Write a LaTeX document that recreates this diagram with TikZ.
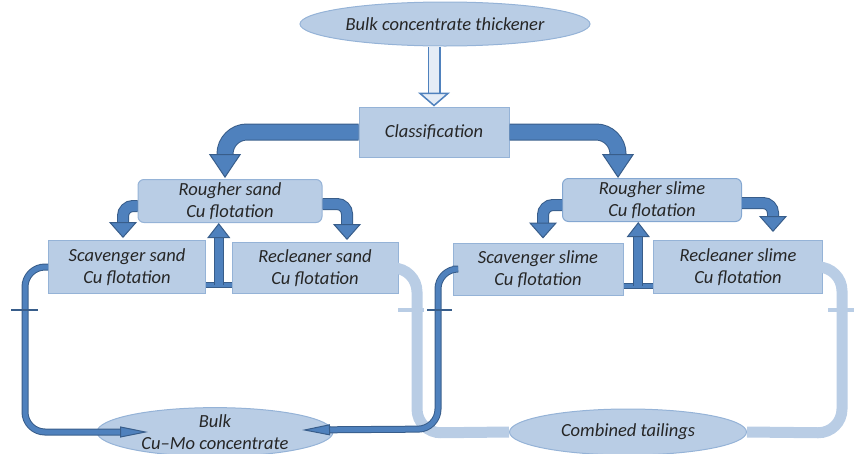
\documentclass[tikz,border=0pt]{standalone}
\usepackage{fontspec}
\setmainfont{Carlito}
\usepackage{tikz}
\usetikzlibrary{
	arrows.meta,
	calc,
	shapes.geometric,
	positioning
}
\definecolor{boxfill}{HTML}{B9CDE5}
\definecolor{boxline}{HTML}{95B3D7}
\definecolor{midblue}{HTML}{4F81BD}
\definecolor{dkblue}{HTML}{385D8A}
\definecolor{ltblue}{HTML}{B9CDE5}
\definecolor{paleblue}{HTML}{E4ECF6}
\definecolor{txt}{HTML}{262626}

\begin{document}
\begin{tikzpicture}[x=1pt, y=-1pt,
	font=\fontsize{18.5}{21.5}\selectfont\itshape, text=txt,
	unit/.style={draw=boxline, fill=boxfill, line width=1, inner sep=0, align=center},
	tank/.style={unit, ellipse},
	bigarr/.style={draw=midblue, line width=15, rounded corners=22,
		-{Triangle[width=32, length=24, line width=1, color=dkblue, fill=midblue]},
		preaction={draw=dkblue, line width=17, arrows=-, shorten >=20}},
	smallarr/.style={draw=midblue, line width=10, rounded corners=10,
		-{Triangle[width=28, length=16, line width=1, color=dkblue, fill=midblue]},
		preaction={draw=dkblue, line width=12, arrows=-, shorten >=13}},
	uparr/.style={draw=midblue, line width=8,
		-{Triangle[width=23, length=15, line width=1, color=dkblue, fill=midblue]},
		preaction={draw=dkblue, line width=10, arrows=-, shorten >=12}},
	bar/.style={draw=midblue, line width=4, preaction={draw=dkblue, line width=6}},
	hollowarr/.style={draw=paleblue, line width=10, shorten >=12,
		preaction={draw=midblue, line width=13, shorten >=12},
		postaction={draw=paleblue, line width=0.1, shorten >=0,
			-{Triangle[width=32, length=14, line width=1.5, color=midblue, fill=paleblue]}}},
	conc/.style={draw=midblue, line width=5, rounded corners=20,
		-{Triangle[width=11, length=28, line width=1, color=dkblue, fill=midblue]},
		preaction={draw=dkblue, line width=7, arrows=-, shorten >=22}},
	tail/.style={draw=ltblue, line width=11, rounded corners=24},
	darktick/.style={draw=dkblue, line width=2.5},
	lighttick/.style={draw=ltblue, line width=4}]

	\useasboundingbox (0,0) rectangle (861,453);
	\clip (0,0) rectangle (861,453);

	% feed and classification
	\node[tank, minimum width=290, minimum height=44] (thick) at (445,24) {Bulk concentrate thickener};
	\node[unit, minimum width=150, minimum height=50] (class) at (434,132) {Classification};

	% sand circuit
	\node[unit, rounded corners=6, minimum width=184, minimum height=43] (rsand) at (230,201) {Rougher sand\\Cu flotation};
	\node[unit, minimum width=157, minimum height=53] (scsand) at (127,267) {Scavenger sand\\Cu flotation};
	\node[unit, minimum width=166, minimum height=51] (rcsand) at (315,268) {Recleaner sand\\Cu flotation};

	% slime circuit
	\node[unit, draw=midblue!70, rounded corners=6, minimum width=179, minimum height=43] (rslime) at (652,200) {Rougher slime\\Cu flotation};
	\node[unit, minimum width=170, minimum height=52] (scslime) at (538,269) {Scavenger slime\\Cu flotation};
	\node[unit, minimum width=169, minimum height=53] (rcslime) at (738,267) {Recleaner slime\\Cu flotation};

	% products
	\node[tank, minimum width=236, minimum height=48] (bulk) at (215,432) {Bulk\\Cu--Mo concentrate};
	\node[tank, minimum width=237, minimum height=46] (tails) at (628,432) {Combined tailings};

	\coordinate (sbase) at ($(scsand.south east)!0.5!(rcsand.south west)+(0,-9)$);
	\coordinate (mbase) at ($(scslime.south east)!0.5!(rcslime.south west)+(0,-9)$);

	% flows
	\draw[hollowarr] (thick.south -| class.north) -- (class.north);
	\draw[bigarr] (class.west) -| ($(rsand.north)+(-5,-1)$);
	\draw[bigarr] (class.east) -| ($(rslime.north)+(-34,0)$);

	\draw[smallarr] ($(rsand.west)+(0,5)$) -| ($(scsand.north)+(-4,-2)$);
	\draw[smallarr] ($(rsand.east)+(0,3)$) -| ($(rcsand.north)+(32,-2)$);
	\draw[bar] (scsand.east |- sbase) -- (rcsand.west |- sbase);
	\draw[uparr] (sbase) -- (sbase |- rsand.south);

	\draw[smallarr] ($(rslime.west)+(0,5)$) -| ($(scslime.north)+(5,-4)$);
	\draw[smallarr] ($(rslime.east)+(0,3)$) -| ($(rcslime.north)+(35,-8)$);
	\draw[bar] (scslime.east |- mbase) -- (rcslime.west |- mbase);
	\draw[uparr] (mbase) -- (mbase |- rslime.south);

	% tailings and concentrate lines
	\draw[tail] (rcsand.east) -| (417,433) -- (tails.west);
	\draw[tail] (rcslime.east) -| (842,433) -- (tails.east);
	\draw[conc] (scsand.west) -| (25,432) -- ($(bulk.center)+(-67,0)$);
	\draw[conc] (scslime.west) -| (438,429) -- ($(bulk.center)+(87,-2)$);

	\draw[darktick] (11,310) -- (38,310);
	\draw[lighttick] (398,310) -- (424,310);
	\draw[darktick] (427,310) -- (452,310);
	\draw[lighttick] (828,310) -- (854,310);
\end{tikzpicture}
\end{document}
